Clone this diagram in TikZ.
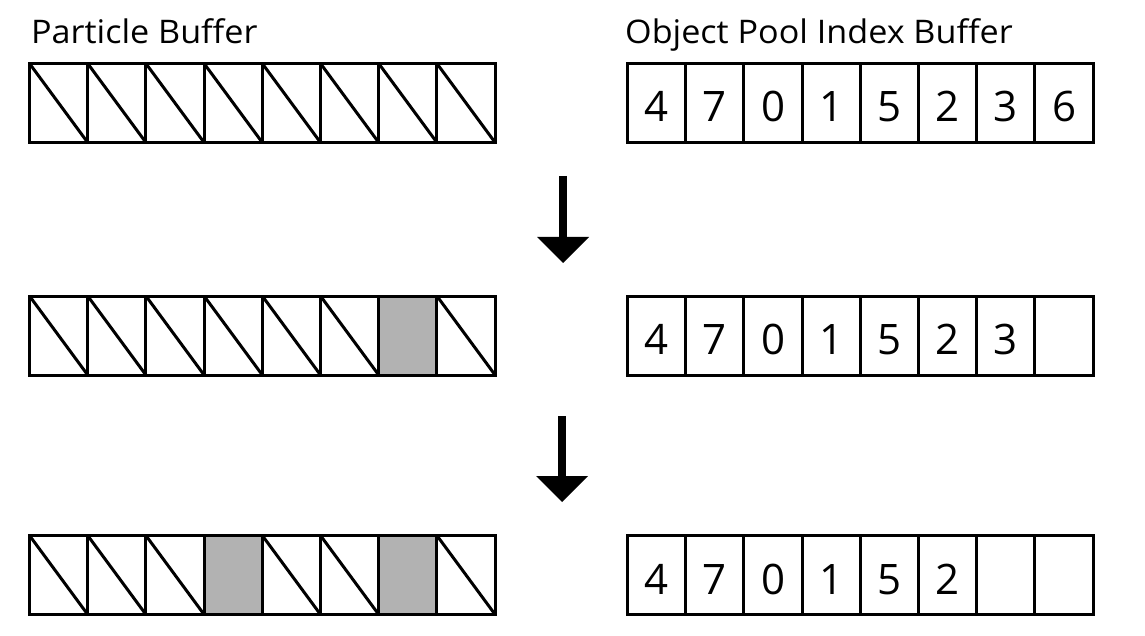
\documentclass[tikz,border=0pt]{standalone}
\usepackage{fontspec}
\setmainfont{Open Sans}
\newfontfamily\titlefont[FakeStretch=1.05]{Open Sans}
\usetikzlibrary{arrows.meta}
\definecolor{cellgray}{RGB}{178,178,178}
\begin{document}
\begin{tikzpicture}[x=1pt,y=-1pt,
  cell/.style={draw, line width=3pt, minimum width=58.2pt, minimum height=79pt,
    inner sep=0pt, outer sep=0pt},
  numcell/.style={cell, font=\fontsize{42}{42}\selectfont, text height=38pt, text depth=0pt},
  diag/.style={line width=3pt},
  title/.style={anchor=base west, inner sep=0pt, font=\titlefont\fontsize{32.5}{32.5}\selectfont},
  bigarrow/.style={line width=8pt, -{Triangle[width=52pt,length=26pt,line width=0pt]}}]
\useasboundingbox (0,0) rectangle (1145,636);
% titles
\node[title] (t1) at (31,44) {Particle Buffer};
\node[title] (t2) at (625,44) {Object Pool Index Buffer};
% particle buffers
\foreach \r/\y in {1/103,2/335.5,3/575}{
  \foreach \i in {0,...,7}{
    \pgfmathtruncatemacro\isgray{((\r==2)&&(\i==6))||((\r==3)&&((\i==3)||(\i==6))) ? 1 : 0}
    \ifnum\isgray=1
      \node[cell, fill=cellgray] (p\r c\i) at ({29.5+58.2*(\i+0.5)},\y) {};
    \else
      \node[cell] (p\r c\i) at ({29.5+58.2*(\i+0.5)},\y) {};
      \draw[diag] (p\r c\i.north west) -- (p\r c\i.south east);
    \fi
  }
}
% index buffers
\foreach \d [count=\k from 0] in {4,7,0,1,5,2,3,6}
  \node[numcell] (o1c\k) at ({627.5+58.2*(\k+0.5)},103) {\d};
\foreach \d [count=\k from 0] in {4,7,0,1,5,2,3,{}}
  \node[numcell] (o2c\k) at ({627.5+58.2*(\k+0.5)},335.5) {\d};
\foreach \d [count=\k from 0] in {4,7,0,1,5,2,{},{}}
  \node[numcell] (o3c\k) at ({627.5+58.2*(\k+0.5)},575) {\d};
% arrows
\coordinate (a1s) at (563,176);
\coordinate (a1e) at (563,263);
\coordinate (a2s) at (562,416);
\coordinate (a2e) at (562,502);
\draw[bigarrow] (a1s) -- (a1e);
\draw[bigarrow] (a2s) -- (a2e);
\end{tikzpicture}
\end{document}
